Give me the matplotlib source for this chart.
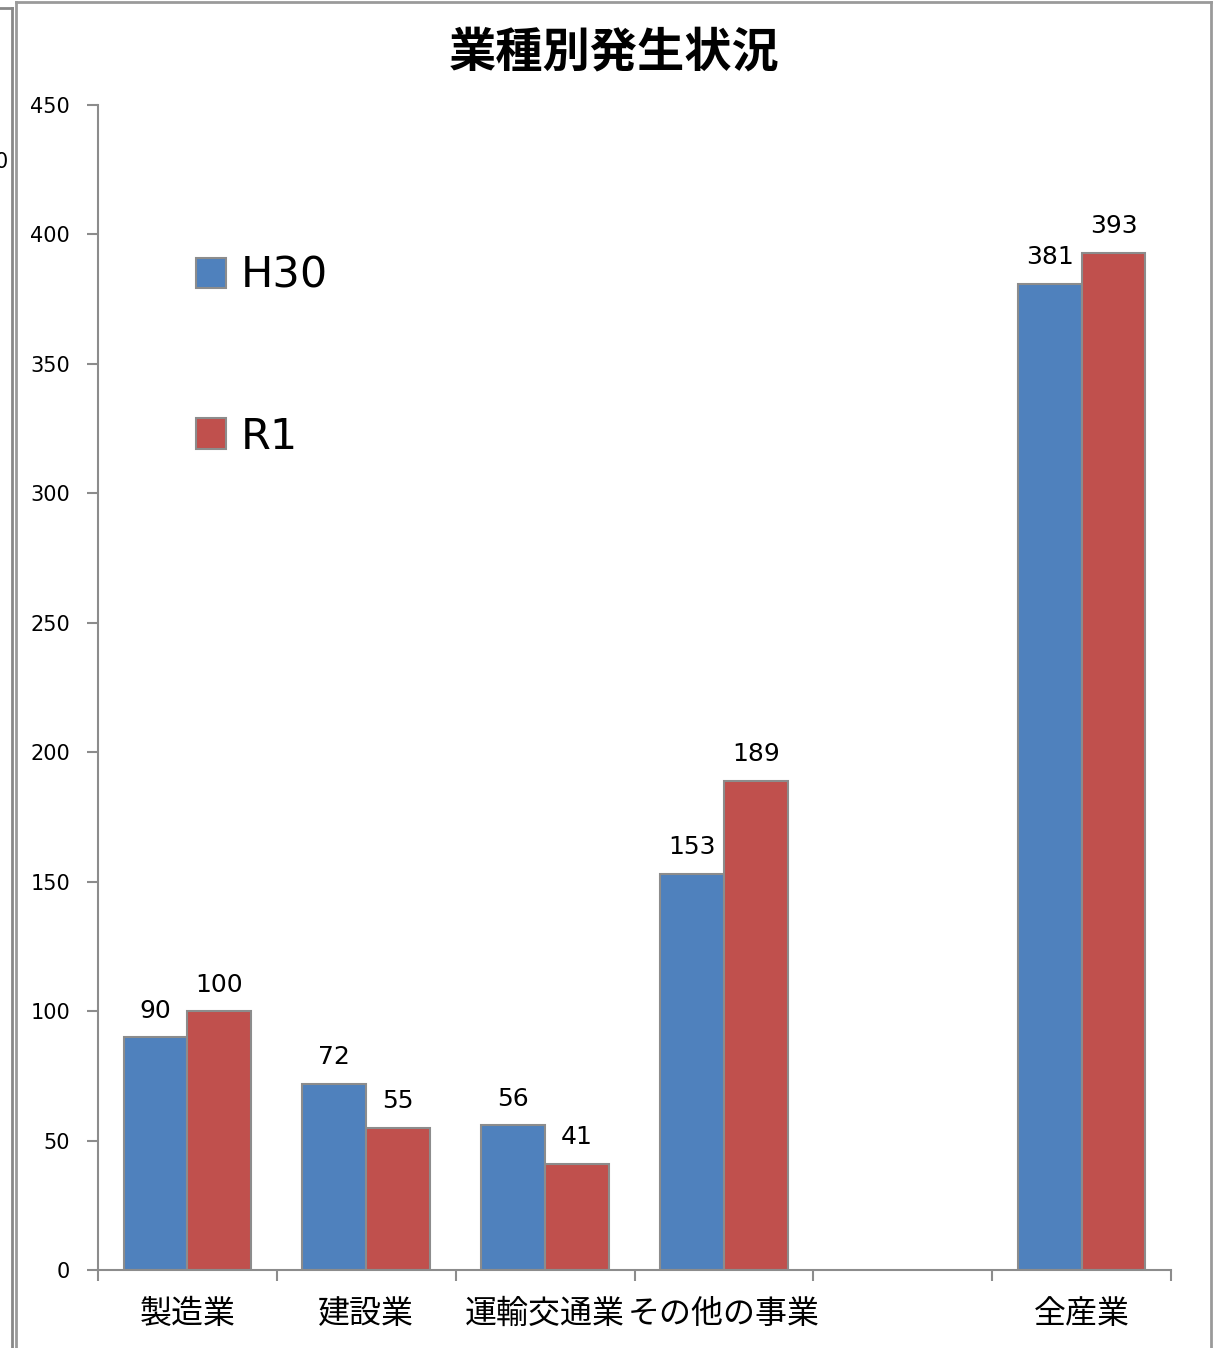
import numpy as np
import matplotlib
matplotlib.use("Agg")
import matplotlib.pyplot as plt
from matplotlib.lines import Line2D

plt.rcParams['font.family'] = ['Noto Sans CJK JP', 'DejaVu Sans']

# data
categories = ["製造業", "建設業", "運輸交通業", "その他の事業", "", "全産業"]
h30 = [90, 72, 56, 153, None, 381]
r1 = [100, 55, 41, 189, None, 393]
series_names = ["H30", "R1"]
yticks = [0, 50, 100, 150, 200, 250, 300, 350, 400, 450]

blue = "#4F81BD"
red = "#C0504D"
edge = "#8C8C8C"

W, H = 1217, 1348
fig = plt.figure(figsize=(W / 100, H / 100), dpi=100)
ax = fig.add_axes([98 / W, 1 - 1270 / H, (1171 - 98) / W, (1270 - 105) / H])

#-----------------------------------------------------#
# bars

bw = 0.357
centers = np.arange(len(categories)) + 0.5
for i, c in enumerate(centers):
    if h30[i] is None:
        continue
    ax.bar(c - bw / 2, h30[i], width=bw, color=blue, edgecolor=edge, linewidth=1.5)
    ax.bar(c + bw / 2, r1[i], width=bw, color=red, edgecolor=edge, linewidth=1.5)
    ax.annotate(str(h30[i]), (c - bw / 2, h30[i]), xytext=(0, 14), textcoords="offset points",
                ha="center", va="baseline", fontsize=18, family="DejaVu Sans")
    ax.annotate(str(r1[i]), (c + bw / 2, r1[i]), xytext=(0, 14), textcoords="offset points",
                ha="center", va="baseline", fontsize=18, family="DejaVu Sans")

ax.set_xlim(0, len(categories))
ax.set_ylim(0, 450)
ax.set_yticks(yticks)
ax.set_yticklabels([str(v) for v in yticks], fontsize=15, family="DejaVu Sans")
ax.set_xticks(np.arange(len(categories) + 1))
ax.set_xticklabels([])
ax.set_xticks(centers, minor=True)
ax.set_xticklabels(categories, minor=True, fontsize=23)
ax.tick_params(axis="x", which="minor", length=0, pad=20)
ax.tick_params(axis="both", which="major", length=8, width=1.5, color=edge, direction="out")
ax.tick_params(axis="y", pad=12)

for s in ["top", "right"]:
    ax.spines[s].set_visible(False)
for s in ["left", "bottom"]:
    ax.spines[s].set_color(edge)
    ax.spines[s].set_linewidth(1.5)

#-----------------------------------------------------#
# legend

handles = [plt.Rectangle((0, 0), 1, 1, facecolor=blue, edgecolor=edge, linewidth=1.5),
           plt.Rectangle((0, 0), 1, 1, facecolor=red, edgecolor=edge, linewidth=1.5)]
leg = ax.legend(handles, series_names, loc="upper left", bbox_to_anchor=(59 / (1171 - 98), 1 - 111 / (1270 - 105)),
                frameon=False, prop={"family": "DejaVu Sans", "size": 31},
                handlelength=0.7, handleheight=0.7, handletextpad=0.35, labelspacing=2.76)

#-----------------------------------------------------#
# title and frame

fig.text(614 / W, 1 - 52 / H, "業種別発生状況", ha="center", va="center", fontsize=34, fontweight="bold")

frame = "#9A9A9A"
fig.add_artist(Line2D([16 / W, 1211 / W], [1 - 2 / H, 1 - 2 / H], color=frame, lw=2, transform=fig.transFigure))
fig.add_artist(Line2D([16 / W, 16 / W], [0, 1 - 2 / H], color=frame, lw=2, transform=fig.transFigure))
fig.add_artist(Line2D([1211 / W, 1211 / W], [0, 1 - 2 / H], color=frame, lw=2, transform=fig.transFigure))
fig.add_artist(Line2D([12 / W, 12 / W], [0, 1 - 8 / H], color="#888888", lw=2, transform=fig.transFigure))
fig.add_artist(Line2D([0, 12 / W], [1 - 8 / H, 1 - 8 / H], color="#888888", lw=2, transform=fig.transFigure))
fig.text(8 / W, 1 - 162 / H, "0", ha="right", va="center", fontsize=15, family="DejaVu Sans")

fig.savefig("out.png", dpi=100)
